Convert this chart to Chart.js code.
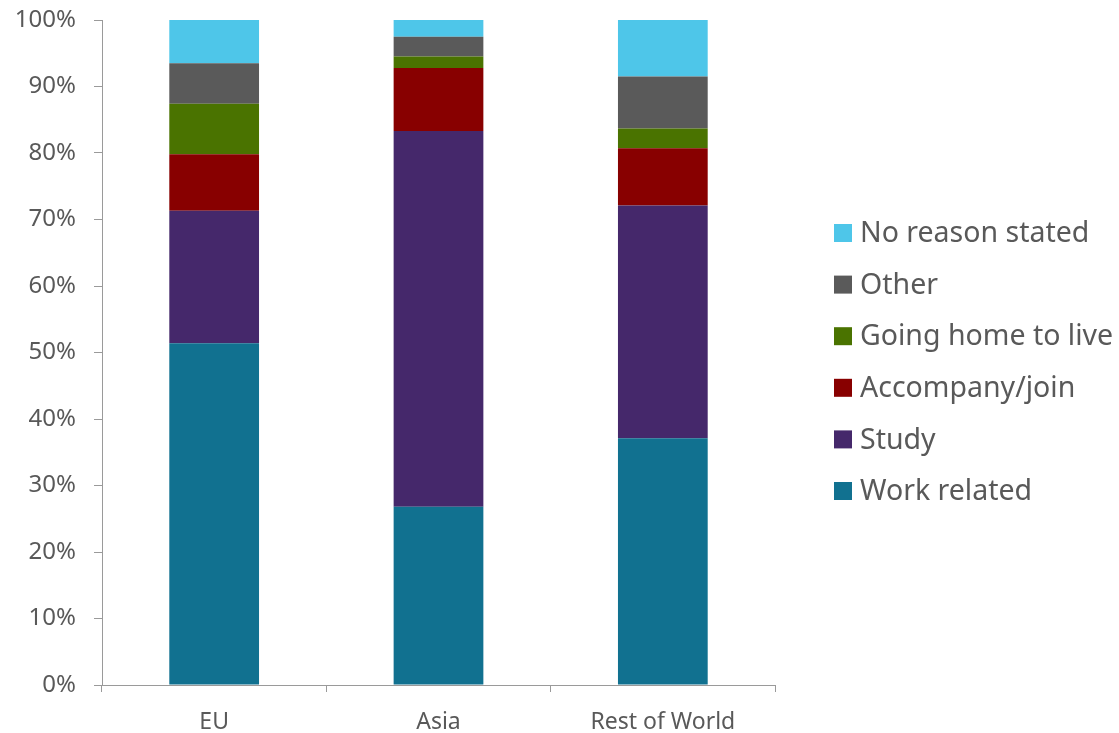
<!DOCTYPE html>
<html>
<head>
<meta charset="utf-8">
<script src="https://cdn.jsdelivr.net/npm/chart.js@4"></script>
<style>
  html, body { margin: 0; padding: 0; background: #fff; }
  #wrap { width: 1119px; height: 733px; }
</style>
</head>
<body>
<div id="wrap"><canvas id="reasonChart"></canvas></div>
<script>
const regions = ['EU', 'Asia', 'Rest of World'];
const workRelated = [51.4, 26.8, 37.1];
const study = [19.9, 56.5, 35.0];
const accompany = [8.5, 9.5, 8.6];
const goingHome = [7.6, 1.7, 3.0];
const other = [6.1, 3.0, 7.8];
const noReason = [6.5, 2.5, 8.5];
const yTicks = [0, 10, 20, 30, 40, 50, 60, 70, 80, 90, 100];

const textGrey = '#595959';
const axisGrey = '#9a9a9a';
const font = 'Noto Sans';

function bar(label, data, color) {
  return { label, data, backgroundColor: color, borderWidth: 0,
    barPercentage: 0.4, categoryPercentage: 1.0 };
}

// legend drawn by hand so the gap and box/text spacing match the original
const sideLegend = {
  id: 'sideLegend',
  afterDraw(chart) {
    const c = chart.ctx;
    const area = chart.chartArea;
    const sets = chart.data.datasets.slice().reverse();
    const x = area.right + 59;
    const step = 51.6;
    const y0 = 233;
    c.save();
    c.font = '28.5px "' + font + '"';
    c.textBaseline = 'middle';
    c.textAlign = 'left';
    sets.forEach((ds, i) => {
      const y = y0 + i * step;
      c.fillStyle = ds.backgroundColor;
      c.fillRect(x, y - 9, 18, 18);
      c.fillStyle = textGrey;
      c.fillText(ds.label, x + 26, y + 1);
    });
    c.restore();
  }
};

const ctx = document.getElementById('reasonChart').getContext('2d');
new Chart(ctx, {
  type: 'bar',
  data: {
    labels: regions,
    datasets: [
      bar('Work related', workRelated, '#117190'),
      bar('Study', study, '#45286b'),
      bar('Accompany/join', accompany, '#880000'),
      bar('Going home to live', goingHome, '#4a7300'),
      bar('Other', other, '#5a5a5a'),
      bar('No reason stated', noReason, '#4ec6e9')
    ]
  },
  options: {
    responsive: true,
    maintainAspectRatio: false,
    animation: false,
    layout: { padding: { top: 20, bottom: 0, left: 0, right: 344 } },
    plugins: {
      title: { display: false },
      tooltip: { enabled: false },
      legend: { display: false }
    },
    scales: {
      x: {
        stacked: true,
        afterFit: s => { s.height = 48; s.paddingLeft = 0; s.paddingRight = 0; },
        grid: { drawOnChartArea: false, color: axisGrey, tickLength: 7, offset: true },
        border: { color: axisGrey, width: 1 },
        ticks: { color: textGrey, font: { family: font, size: 23 }, padding: 17 }
      },
      y: {
        stacked: true,
        min: 0, max: 100,
        afterBuildTicks: s => { s.ticks = yTicks.map(v => ({ value: v })); },
        afterFit: s => { s.width = 102; s.paddingTop = 0; s.paddingBottom = 0; },
        grid: { drawOnChartArea: false, color: axisGrey, tickLength: 8 },
        border: { color: axisGrey, width: 1 },
        ticks: { color: textGrey, font: { family: font, size: 24 }, padding: 18,
          callback: v => v + '%' }
      }
    }
  },
  plugins: [sideLegend]
});
</script>
</body>
</html>
